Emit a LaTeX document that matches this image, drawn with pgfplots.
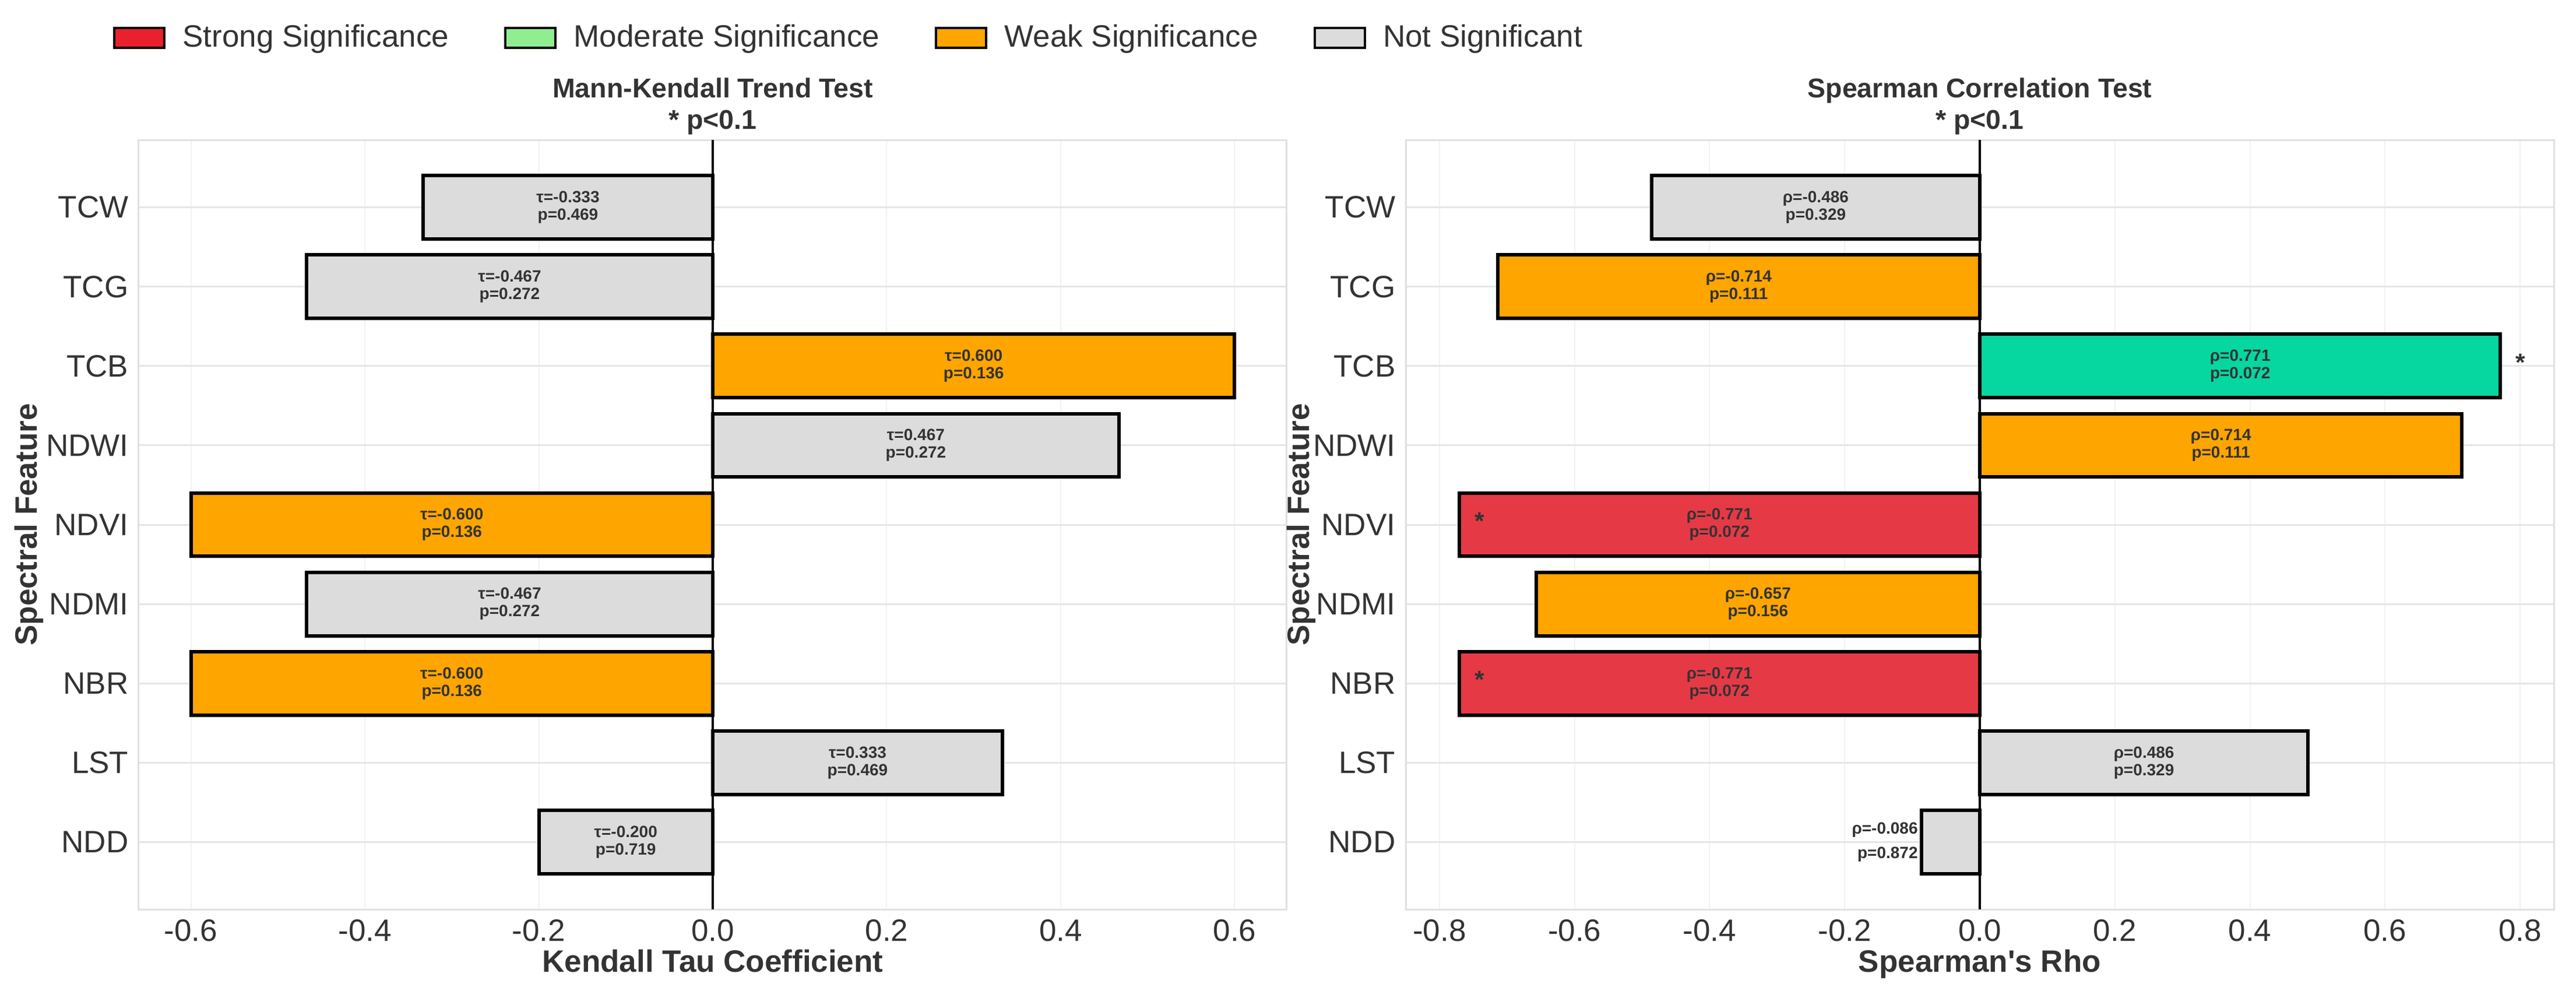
\documentclass[border=0pt]{standalone}
\usepackage{fontspec}
\setmainfont{Liberation Sans}
\usepackage{pgfplots}
\pgfplotsset{compat=1.18}
\usepackage{pgfplotstable}

\definecolor{sigRed}{HTML}{E63946}
\definecolor{sigGreen}{HTML}{06D6A0}
\definecolor{sigOrange}{HTML}{FFA500}
\definecolor{sigGray}{HTML}{DCDCDC}
\definecolor{legRed}{HTML}{E8212D}
\definecolor{legGreen}{HTML}{90EE90}
\definecolor{txt}{HTML}{333333}
\definecolor{gridH}{HTML}{E6E6E6}
\definecolor{gridV}{HTML}{F2F2F2}
\definecolor{frameC}{HTML}{E0E0E0}

% row: 0 = TCW (top) ... 8 = NDD (bottom)
\pgfplotstableread{
row r p
0 -0.333 0.469
1 -0.467 0.272
2 0.600 0.136
3 0.467 0.272
4 -0.600 0.136
5 -0.467 0.272
6 -0.600 0.136
7 0.333 0.469
8 -0.200 0.719
}\kendall

\pgfplotstableread{
row r p
0 -0.486 0.329
1 -0.714 0.111
2 0.771 0.072
3 0.714 0.111
4 -0.771 0.072
5 -0.657 0.156
6 -0.771 0.072
7 0.486 0.329
8 -0.086 0.872
}\spearman

\newcommand\pnum[1]{\pgfmathprintnumber[fixed, fixed zerofill, precision=3, assume math mode=true]{#1}}

\pgfplotsset{
  panel/.style={
    scale only axis, width=394pt, height=264pt,
    anchor=south west,
    y dir=reverse, ymin=-0.85, ymax=8.85,
    ytick={0,...,8},
    yticklabels={TCW,TCG,TCB,NDWI,NDVI,NDMI,NBR,LST,NDD},
    major tick length=0pt,
    grid=major,
    x grid style={color=gridV, line width=0.4pt},
    y grid style={color=gridH, line width=0.6pt},
    axis line style={color=frameC, line width=0.6pt},
    tick label style={font=\fontsize{10.6}{12}\selectfont, text=txt},
    label style={font=\fontsize{10.6}{12}\selectfont\bfseries, text=txt},
    title style={font=\fontsize{9.3}{10.8}\selectfont\bfseries, text=txt,
      align=center, anchor=south, inner sep=0pt, yshift=-4.4pt},
    ylabel={Spectral Feature},
    xlabel style={at={(axis description cs:0.5,-0.0515)}, anchor=north, inner sep=0pt},
  },
  sigbar/.style={xbar, bar width=0.8, bar shift=0pt, draw=black, line width=1.2pt, forget plot},
  zeroline/.style={black, line width=0.9pt, forget plot},
  lbl/.style={draw=none, mark=none, forget plot,
    every node near coord/.append style={anchor=center, align=center, inner sep=0pt,
      font=\fontsize{5.6}{6}\selectfont\bfseries, text=txt}},
  star/.style={draw=none, mark=none, forget plot, nodes near coords={*},
    every node near coord/.append style={anchor=base, yshift=-1.7pt, inner sep=0pt,
      font=\fontsize{8.5}{9}\selectfont\bfseries, text=txt}},
}

\begin{document}
\begin{tikzpicture}
\path[use as bounding box] (0,0) rectangle (884pt,340pt);

% Mann-Kendall
\begin{axis}[panel, at={(47.6pt,28pt)},
  xmin=-0.66, xmax=0.66,
  xtick={-0.6,-0.4,-0.2,0,0.2,0.4,0.6},
  xticklabels={-0.6,-0.4,-0.2,0.0,0.2,0.4,0.6},
  xlabel={Kendall Tau Coefficient},
  title={Mann-Kendall Trend Test\\* p<0.1},
  ylabel style={at={(axis description cs:-0.0954,0.5)}, anchor=center},
  legend style={at={(axis description cs:-0.0228,1.1326)}, anchor=west,
    draw=none, fill=none, inner sep=0pt, legend columns=4,
    font=\fontsize{10.6}{12}\selectfont, text=txt,
    /tikz/every odd column/.append style={column sep=3.9pt},
    /tikz/every even column/.append style={column sep=17pt}},
  legend cell align=left,
  legend image code/.code={\draw[#1, line width=0.8pt] (0pt,-3.4pt) rectangle (17.2pt,3.4pt);},
]
\addlegendimage{fill=legRed, draw=black}
\addlegendentry{Strong Significance}
\addlegendimage{fill=legGreen, draw=black}
\addlegendentry{Moderate Significance}
\addlegendimage{fill=sigOrange, draw=black}
\addlegendentry{Weak Significance}
\addlegendimage{fill=sigGray, draw=black}
\addlegendentry{Not Significant}

\addplot[sigbar, fill=sigGray] coordinates {(-0.333,0) (-0.467,1) (0.467,3) (-0.467,5) (0.333,7) (-0.200,8)};
\addplot[sigbar, fill=sigOrange] coordinates {(0.600,2) (-0.600,4) (-0.600,6)};
\addplot[zeroline] coordinates {(0,-0.85) (0,8.85)};
\addplot[lbl,
  visualization depends on={\thisrow{r}\as\rv},
  visualization depends on={\thisrow{p}\as\pv},
  nodes near coords={τ=\pnum{\rv}\\p=\pnum{\pv}}]
  table[x expr=\thisrow{r}/2, y=row] {\kendall};
\end{axis}

% Spearman
\begin{axis}[panel, at={(482.4pt,28pt)},
  xmin=-0.85, xmax=0.85,
  xtick={-0.8,-0.6,-0.4,-0.2,0,0.2,0.4,0.6,0.8},
  xticklabels={-0.8,-0.6,-0.4,-0.2,0.0,0.2,0.4,0.6,0.8},
  xlabel={Spearman\textquotesingle s Rho},
  title={Spearman Correlation Test\\* p<0.1},
  ylabel style={at={(axis description cs:-0.0909,0.5)}, anchor=center},
]
\addplot[sigbar, fill=sigGray] coordinates {(-0.486,0) (0.486,7) (-0.086,8)};
\addplot[sigbar, fill=sigOrange] coordinates {(-0.714,1) (0.714,3) (-0.657,5)};
\addplot[sigbar, fill=sigGreen] coordinates {(0.771,2)};
\addplot[sigbar, fill=sigRed] coordinates {(-0.771,4) (-0.771,6)};
\addplot[zeroline] coordinates {(0,-0.85) (0,8.85)};
\addplot[lbl, restrict y to domain=0:7,
  visualization depends on={\thisrow{r}\as\rv},
  visualization depends on={\thisrow{p}\as\pv},
  nodes near coords={ρ=\pnum{\rv}\\p=\pnum{\pv}}]
  table[x expr=\thisrow{r}/2, y=row] {\spearman};
% NDD label sits left of its short bar
\addplot[lbl, nodes near coords={ρ=-0.086\\p=0.872},
  every node near coord/.append style={anchor=east, align=right,
    font=\fontsize{5.6}{8.4}\selectfont\bfseries}]
  coordinates {(-0.091,8)};
\addplot[star] coordinates {(0.801,2) (-0.741,4) (-0.741,6)};
\end{axis}
\end{tikzpicture}
\end{document}
